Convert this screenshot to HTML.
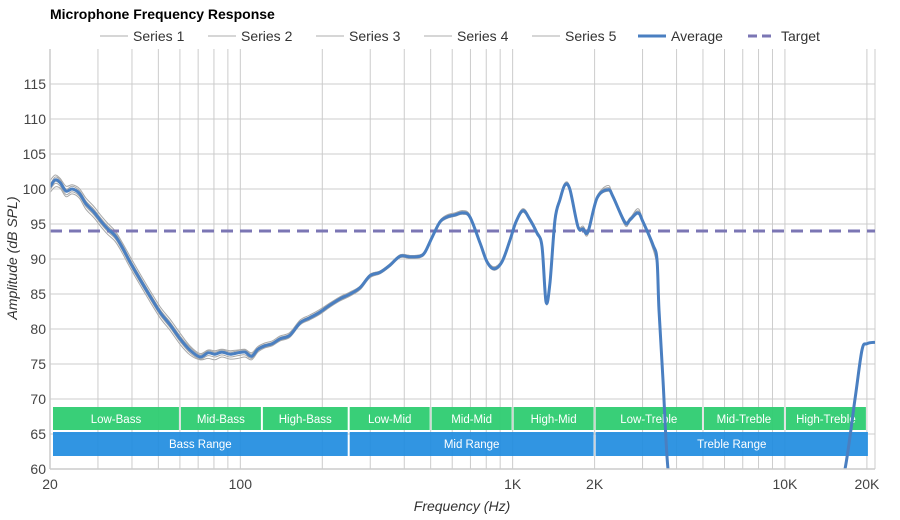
<!DOCTYPE html>
<html><head><meta charset="utf-8"><style>
html,body{margin:0;padding:0;background:#fff;width:900px;height:520px;overflow:hidden;}
svg{display:block;font-family:"Liberation Sans",Arial,sans-serif;}
</style></head><body>
<svg id="c" width="900" height="520" viewBox="0 0 900 520">
<text x="50" y="19" font-size="14" font-weight="bold" fill="#000">Microphone Frequency Response</text>
<g id="grid"></g>
<g id="bands"></g>
<g id="series"></g>
<g id="axes"></g>
<g id="legend"></g>
</svg>
<script>
const avgFreq=[20,20.9,21.8,22.9,24.1,25.6,27.1,29.0,30.5,32.4,34.7,36.8,39.3,42.8,46.6,50.7,55.2,60.1,65.3,71.1,76.1,80.7,85.6,91.7,98.0,104,110,116,123,131,140,152,166,180,196,213,232,253,275,299,326,354,386,420,457,477,506,541,574,614,657,697,759,805,854,914,978,1029,1092,1158,1229,1282,1326,1371,1431,1493,1557,1624,1738,1813,1891,2041,2240,2337,2586,2698,2887,3011,3278,3391,3448,3567,3721,3949,15270,16620,18090,19190,20020,21430];
const avgDb=[100.3,101.3,100.9,99.7,100,99.4,97.9,96.7,95.6,94.4,93.3,91.7,89.6,87.1,84.7,82.4,80.6,78.6,77,76,76.6,76.4,76.7,76.4,76.6,76.7,76.1,77.1,77.6,77.9,78.6,79.1,80.9,81.6,82.4,83.4,84.3,85,85.9,87.6,88.1,89.1,90.4,90.3,90.4,91,93.1,95.3,96,96.3,96.6,96,92.3,89.6,88.6,89.6,92.7,95.3,96.9,95.6,93.7,91.8,83.9,86.5,95.6,98.5,100.6,99.9,94.6,94.3,93.9,98.7,99.9,98.9,95.2,95.6,96.6,95.3,92,89.9,82.7,72.7,60,56,56,60,70,77,77.9,78.1];
const targetDb=94;
const s1=[101.2,102,101.5,100.4,100.6,100.1,98.7,97.5,96.4,95.2,94,92.4,90.4,87.9,85.5,83.2,81.4,79.4,77.6,76.5,77,76.9,77.1,76.9,77,77.1,76.6,77.5,78,78.3,79,79.5,81.3,82,82.8,83.7,84.6,85.3,86.1,87.8,88.3,89.3,90.6,90.5,90.6,91.2,93.3,95.5,96.2,96.5,96.9,96.2,92.5,89.8,88.8,89.8,92.9,95.5,97.1,95.8,93.9,92,84.1,86.7,95.8,98.7,100.8,100.1,94.8,94.5,94.1,98.9,100.5,99.1,95.4,95.8,97.2,95.5,92.2,90.1];
const s2=[99.5,100.3,100.1,98.9,99.3,98.7,97.1,95.9,94.8,93.6,92.5,90.9,88.8,86.3,83.9,81.6,79.8,77.8,76.3,75.6,75.8,75.6,76,75.7,75.8,76,75.6,76.7,77.3,77.6,78.3,78.8,80.6,81.3,82.1,83.1,84,84.7,85.6,87.3,87.9,88.9,90.2,90.1,90.2,90.8,92.9,95.1,95.8,96.1,96.4,95.8,92.1,89.4,88.4,89.4,92.5,95.1,96.7,95.4,93.5,91.6,83.7,86.3,95.4,98.3,100.4,99.7,94.4,94.1,93.5,98.5,99.7,98.7,94.8,95.4,96.4,95.1,91.4,89.2];
const s3=[100.6,101.7,101.3,100,100.4,99.8,98.3,97.1,96,94.8,93.7,92.1,90,87.5,85.1,82.8,81,79,77.4,76.3,76.9,76.7,77,76.7,76.9,77,76.4,77.3,77.8,78.1,78.8,79.3,81.1,81.8,82.6,83.6,84.5,85.2,86.1,87.8,88.3,89.3,90.6,90.5,90.6,91.2,93.3,95.5,96.3,96.6,96.9,96.3,92.6,89.9,88.9,89.9,93,95.6,97.2,95.9,94,92.1,84.2,86.8,95.9,98.8,100.9,100.2,94.9,94.7,94.3,99,100.2,99.2,95.5,95.9,96.9,95.6,92.3,90.2];
const s4=[99.9,100.8,100.4,99.2,99.6,99,97.5,96.3,95.2,94,92.9,91.3,89.2,86.7,84.3,82,80.2,78.2,76.6,75.7,76.2,76,76.3,76,76.2,76.3,75.8,76.9,77.4,77.7,78.4,78.9,80.7,81.4,82.2,83.2,84.1,84.8,85.7,87.4,87.9,88.9,90.2,90.1,90.2,90.8,92.9,95.1,95.8,96.1,96.4,95.8,92.1,89.4,88.4,89.4,92.5,95.1,96.7,95.4,93.5,91.6,83.7,86.3,95.4,98.3,100.4,99.7,94.4,94.1,93.7,98.5,99.7,98.7,95,95.4,96.4,95.1,91.8,89.6];
const s5=[100.2,101.1,100.7,99.6,99.9,99.3,97.8,96.6,95.5,94.3,93.2,91.6,89.5,87,84.6,82.3,80.5,78.5,76.9,75.9,76.5,76.3,76.6,76.3,76.5,76.6,76,77,77.5,77.8,78.5,79,80.8,81.5,82.3,83.3,84.2,84.9,85.8,87.5,88,89,90.3,90.2,90.3,90.9,93,95.2,95.9,96.2,96.5,95.9,92.2,89.5,88.5,89.5,92.6,95.2,96.8,95.5,93.6,91.7,83.8,86.4,95.5,98.4,100.5,99.8,94.5,94.2,93.8,98.6,99.8,98.8,95.1,95.5,96.5,95.2,91.9,89.8];
const bandNames=["Low-Bass","Mid-Bass","High-Bass","Low-Mid","Mid-Mid","High-Mid","Low-Treble","Mid-Treble","High-Treble"];
const bandEdges=[20,60,120,250,500,1000,2000,5000,10000,20000];
const rangeNames=["Bass Range","Mid Range","Treble Range"];
const rangeEdges=[20,250,2000,20000];
const yTicks=[60,65,70,75,80,85,90,95,100,105,110,115];
const xGrid=[20,30,40,50,60,70,80,90,100,200,300,400,500,600,700,800,900,1000,2000,3000,4000,5000,6000,7000,8000,9000,10000,20000];
const xTickVals=[20,100,1000,2000,10000,20000];
const xTickLabels=["20","100","1K","2K","10K","20K"];

const NS="http://www.w3.org/2000/svg";
const L=50,R=875,T=49,B=469,PXD=272.3;
function X(f){return L+Math.log10(f/20)*PXD;}
function Y(v){return B-(v-60)*7;}
function mk(tag,attrs,parent){const e=document.createElementNS(NS,tag);for(const k in attrs)e.setAttribute(k,attrs[k]);parent.appendChild(e);return e;}
function smooth(pts){let d="M"+pts[0][0].toFixed(1)+","+pts[0][1].toFixed(1);
 for(let i=0;i<pts.length-1;i++){const p0=pts[Math.max(0,i-1)],p1=pts[i],p2=pts[i+1],p3=pts[Math.min(pts.length-1,i+2)];
  const c1x=p1[0]+(p2[0]-p0[0])/6,c1y=p1[1]+(p2[1]-p0[1])/6,c2x=p2[0]-(p3[0]-p1[0])/6,c2y=p2[1]-(p3[1]-p1[1])/6;
  d+=" C"+c1x.toFixed(1)+","+c1y.toFixed(1)+" "+c2x.toFixed(1)+","+c2y.toFixed(1)+" "+p2[0].toFixed(1)+","+p2[1].toFixed(1);}
 return d;}
const svg=document.getElementById('c');
const defs=mk('defs',{},svg);
const cp=mk('clipPath',{id:'plotclip'},defs);
mk('rect',{x:L,y:T,width:R-L,height:B-T},cp);

const grid=document.getElementById('grid');
yTicks.forEach(v=>{const l=mk('line',{x1:L,x2:R,y1:Y(v),y2:Y(v),stroke:'#cccccc','stroke-width':1},grid);

});
xGrid.forEach(f=>{const l=mk('line',{x1:X(f),x2:X(f),y1:T,y2:B,stroke:'#cccccc','stroke-width':1},grid);

});
mk('line',{x1:R,x2:R,y1:T,y2:B,stroke:'#cccccc','stroke-width':1},grid);

const bands=document.getElementById('bands');
bandNames.forEach((n,i)=>{const x1=X(bandEdges[i])+(i?1:3),x2=X(bandEdges[i+1])-1;
 const r=mk('rect',{x:x1,y:407,width:x2-x1,height:23,fill:'#2ecc71','fill-opacity':0.95},bands);
 
 
 const t=mk('text',{x:(x1+x2)/2,y:423,'text-anchor':'middle','font-size':11.5,fill:'#fff'},bands);t.textContent=n;
 
 });
rangeNames.forEach((n,i)=>{const x1=X(rangeEdges[i])+(i?1:3),x2=X(rangeEdges[i+1])+(i==2?1:-1);
 const r=mk('rect',{x:x1,y:432,width:x2-x1,height:24,fill:'#1f8ce0','fill-opacity':0.92},bands);
 
 
 const t=mk('text',{x:(x1+x2)/2,y:448,'text-anchor':'middle','font-size':11.5,fill:'#fff'},bands);t.textContent=n;
 
 });

const sg=document.getElementById('series');
sg.setAttribute('clip-path','url(#plotclip)');
[s1,s2,s3,s4,s5].forEach((s,k)=>{const p=mk('path',{d:smooth(s.map((v,i)=>[X(avgFreq[i]),Y(v)])),fill:'none',stroke:'#a8a8a8','stroke-width':1},sg);
 
 });
const tl=mk('line',{x1:L,x2:R,y1:Y(targetDb),y2:Y(targetDb),stroke:'#7b76b4','stroke-width':3,'stroke-dasharray':'12,7'},sg);


const av=mk('path',{d:smooth(avgFreq.map((f,i)=>[X(f),Y(avgDb[i])])),fill:'none',stroke:'#4a7fc1','stroke-width':3,'stroke-linejoin':'round'},sg);



const ax=document.getElementById('axes');
mk('line',{x1:L,x2:L,y1:T,y2:B,stroke:'#cccccc','stroke-width':1.5},ax);
mk('line',{x1:L,x2:R,y1:B,y2:B,stroke:'#cccccc','stroke-width':1.5},ax);
yTicks.forEach(v=>{const t=mk('text',{x:46,y:Y(v)+5,'text-anchor':'end','font-size':14,fill:'#444'},ax);t.textContent=v;
 
 });
xTickVals.forEach((f,i)=>{const t=mk('text',{x:X(f),y:489,'text-anchor':'middle','font-size':14,fill:'#444'},ax);t.textContent=xTickLabels[i];
 
 });
const xt=mk('text',{x:462,y:511,'text-anchor':'middle','font-size':14,'font-style':'italic',fill:'#333'},ax);xt.textContent='Frequency (Hz)';


const yt=mk('text',{x:0,y:0,'text-anchor':'middle','font-size':14,'font-style':'italic',fill:'#333',transform:'translate(17,258) rotate(-90)'},ax);yt.textContent='Amplitude (dB SPL)';



const lg=document.getElementById('legend');
const legItems=[["Series 1",100,'s'],["Series 2",208,'s'],["Series 3",316,'s'],["Series 4",424,'s'],["Series 5",532,'s'],["Average",638,'a'],["Target",748,'t']];
legItems.forEach(([n,x,k])=>{const g=mk('g',{},lg);
 
 
 if(k=='s')mk('line',{x1:x,x2:x+28,y1:36,y2:36,stroke:'#c8c8c8','stroke-width':1.5},g);
 if(k=='a')mk('line',{x1:x,x2:x+28,y1:36,y2:36,stroke:'#4a7fc1','stroke-width':3},g);
 if(k=='t')mk('line',{x1:x,x2:x+28,y1:36,y2:36,stroke:'#7b76b4','stroke-width':3,'stroke-dasharray':'9,5'},g);
 const t=mk('text',{x:x+33,y:41,'font-size':14,fill:'#333'},g);t.textContent=n;});
</script>
</body></html>
